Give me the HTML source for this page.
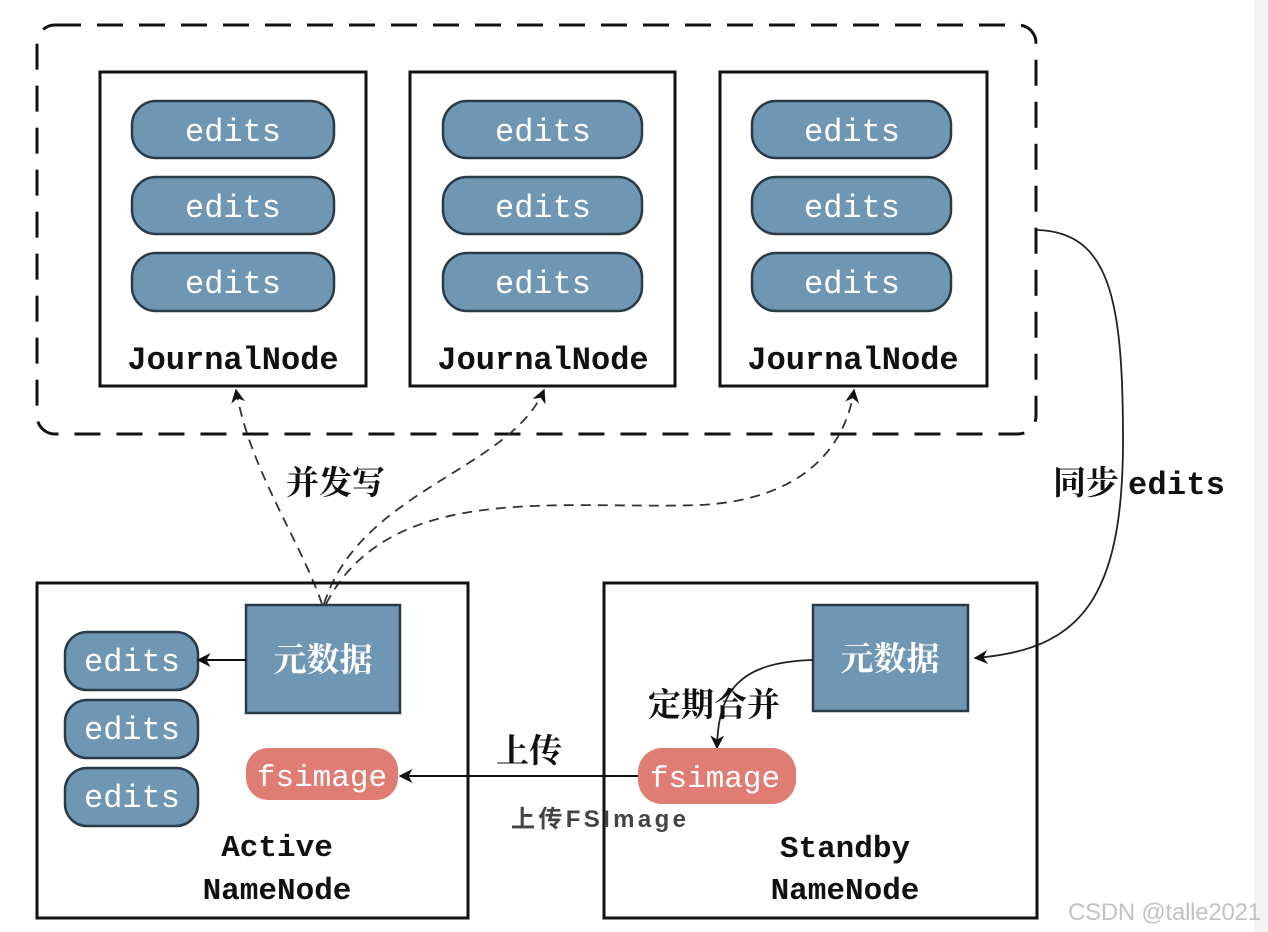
<!DOCTYPE html>
<html><head><meta charset="utf-8"><style>
html,body{margin:0;padding:0;background:#fff;width:1268px;height:932px;overflow:hidden}
svg{display:block}
.mono{font-family:"Liberation Mono","Noto Serif CJK SC",monospace}
.cjk{font-family:"Noto Serif CJK SC","WenQuanYi Zen Hei",serif;font-weight:bold}
</style></head><body>
<svg width="1268" height="932" viewBox="0 0 1268 932" xmlns="http://www.w3.org/2000/svg">
<defs>
<marker id="ah2" viewBox="0 0 10 10" refX="9" refY="5" markerWidth="14" markerHeight="14" orient="auto" markerUnits="userSpaceOnUse">
<path d="M0,0 L10,5 L0,10 L3,5 z" fill="#111" stroke="none"/></marker>
</defs>
<rect x="1254" y="0" width="14" height="932" fill="#f4f4f4"/>
<rect x="37" y="25" width="999" height="409" rx="18" fill="none" stroke="#111" stroke-width="3" stroke-dasharray="26,16"/>
<g stroke="#111" stroke-width="3" fill="#fff">
<rect x="100" y="72" width="266" height="314"/>
<rect x="410" y="72" width="265" height="314"/>
<rect x="720" y="72" width="267" height="314"/>
</g>
<g fill="#6f97b3" stroke="#2a3a46" stroke-width="2.5">
<rect x="132" y="101" width="202" height="57" rx="24"/>
<rect x="132" y="177" width="202" height="57" rx="24"/>
<rect x="132" y="253" width="202" height="58" rx="24"/>
<rect x="443" y="101" width="199" height="57" rx="24"/>
<rect x="443" y="177" width="199" height="57" rx="24"/>
<rect x="443" y="253" width="199" height="58" rx="24"/>
<rect x="752" y="101" width="199" height="57" rx="24"/>
<rect x="752" y="177" width="199" height="57" rx="24"/>
<rect x="752" y="253" width="199" height="58" rx="24"/>
</g>
<g class="mono" fill="#fff" font-size="32" text-anchor="middle">
<text x="233" y="141">edits</text><text x="233" y="217">edits</text><text x="233" y="293">edits</text>
<text x="543" y="141">edits</text><text x="543" y="217">edits</text><text x="543" y="293">edits</text>
<text x="852" y="141">edits</text><text x="852" y="217">edits</text><text x="852" y="293">edits</text>
</g>
<g class="mono" fill="#111" font-size="32" text-anchor="middle" font-weight="bold">
<text x="233" y="369">JournalNode</text><text x="543" y="369">JournalNode</text><text x="853" y="369">JournalNode</text>
</g>
<g fill="none" stroke="#333" stroke-width="1.8" stroke-dasharray="10,7">
<path d="M322,604 C300,540 250,470 236,390" marker-end="url(#ah2)"/>
<path d="M324,604 C360,490 510,470 544,390" marker-end="url(#ah2)"/>
<path d="M326,604 C390,480 560,510 700,505 C800,500 845,450 854,390" marker-end="url(#ah2)"/>
</g>
<text class="cjk" x="286" y="494" font-size="33" fill="#111">并发写</text>
<path d="M1037,230 C1110,232 1123,300 1123,440 C1123,600 1080,650 975,658" fill="none" stroke="#222" stroke-width="1.8" marker-end="url(#ah2)"/>
<text class="cjk" x="1053" y="494" font-size="33" fill="#111">同步</text>
<text class="mono" x="1128" y="494" font-size="32" font-weight="bold" fill="#111" textLength="97">edits</text>
<rect x="37" y="583" width="431" height="335" fill="none" stroke="#111" stroke-width="3"/>
<rect x="246" y="605" width="154" height="108" fill="#6f97b3" stroke="#2a3a46" stroke-width="2.5"/>
<text class="cjk" x="323" y="671" font-size="33" fill="#fff" text-anchor="middle" font-weight="normal">元数据</text>
<g fill="#6f97b3" stroke="#2a3a46" stroke-width="2.5">
<rect x="65" y="632" width="133" height="58" rx="22"/>
<rect x="65" y="700" width="133" height="58" rx="22"/>
<rect x="65" y="768" width="133" height="58" rx="22"/>
</g>
<g class="mono" fill="#fff" font-size="32" text-anchor="middle">
<text x="132" y="671">edits</text><text x="132" y="739">edits</text><text x="132" y="807">edits</text>
</g>
<line x1="246" y1="660" x2="198" y2="660" stroke="#111" stroke-width="2" marker-end="url(#ah2)"/>
<rect x="246" y="748" width="152" height="52" rx="22" fill="#df7d74"/>
<text class="mono" x="322" y="786" font-size="31" fill="#fff" text-anchor="middle">fsimage</text>
<g class="mono" fill="#111" font-size="31" text-anchor="middle" font-weight="bold">
<text x="277" y="856">Active</text><text x="277" y="899">NameNode</text>
</g>
<rect x="604" y="583" width="433" height="335" fill="none" stroke="#111" stroke-width="3"/>
<rect x="813" y="605" width="155" height="106" fill="#6f97b3" stroke="#2a3a46" stroke-width="2.5"/>
<text class="cjk" x="890" y="670" font-size="33" fill="#fff" text-anchor="middle" font-weight="normal">元数据</text>
<path d="M813,660 C740,662 718,690 717,748" fill="none" stroke="#222" stroke-width="1.8" marker-end="url(#ah2)"/>
<text class="cjk" x="648" y="716" font-size="33" fill="#111">定期合并</text>
<rect x="638" y="748" width="158" height="56" rx="24" fill="#df7d74"/>
<text class="mono" x="715" y="787" font-size="31" fill="#fff" text-anchor="middle">fsimage</text>
<g class="mono" fill="#111" font-size="31" text-anchor="middle" font-weight="bold">
<text x="845" y="857">Standby</text><text x="845" y="899">NameNode</text>
</g>
<line x1="638" y1="776" x2="400" y2="776" stroke="#111" stroke-width="2" marker-end="url(#ah2)"/>
<text class="cjk" x="496" y="762" font-size="33" fill="#111">上传</text>
<text x="511" y="827" font-size="24" font-weight="bold" fill="#444" textLength="175" font-family="'Liberation Sans','Noto Sans CJK SC',sans-serif">上传FSImage</text>
<text x="1068" y="920" font-size="24" fill="#c2c2c2" textLength="193" font-family="'Liberation Sans',sans-serif">CSDN @talle2021</text>
</svg>
</body></html>
